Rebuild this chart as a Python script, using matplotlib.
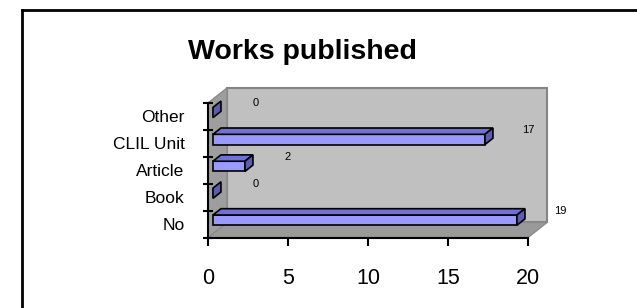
import matplotlib
matplotlib.use("Agg")
import matplotlib.pyplot as plt
from matplotlib.patches import Polygon
from matplotlib.lines import Line2D

# data
categories = ["No", "Book", "Article", "CLIL Unit", "Other"]
values = [19, 0, 2, 17, 0]
xticks = [0, 5, 10, 15, 20]
title = "Works published"

plt.rcParams['font.family'] = ['Liberation Sans', 'DejaVu Sans']

W, H = 637, 308
fig = plt.figure(figsize=(W / 100, H / 100), dpi=100)
ax = fig.add_axes([208 / W, 70.5 / H, 320 / W, 134.5 / H])
xmax = xticks[-1]
lo, hi = -0.5, len(categories) - 0.5
ax.set_xlim(0, xmax)
ax.set_ylim(lo, hi)

# fake 3d depth (in data units)
dx, dy = 1.19, 0.56


def poly(pts, fc, ec, lw, z):
    ax.add_patch(Polygon(pts, closed=True, fc=fc, ec=ec, lw=lw,
                         zorder=z, clip_on=False, joinstyle='miter'))


# walls and floor
poly([(dx, lo + dy), (xmax + dx, lo + dy), (xmax + dx, hi + dy), (dx, hi + dy)],
     '#c0c0c0', '#858585', 1.5, 1)
poly([(0, lo), (xmax, lo), (xmax + dx, lo + dy), (dx, lo + dy)],
     '#9a9a9a', '#8a8a8a', 1.0, 1.1)
poly([(0, lo), (0, hi), (dx, hi + dy), (dx, lo + dy)],
     '#9e9e9e', '#8a8a8a', 1.0, 1.1)

# bars
h = 0.38
f0, f1 = 0.26, 0.68
ddx, ddy = (f1 - f0) * dx, (f1 - f0) * dy
for i, v in enumerate(values):
    x0 = f0 * dx
    y0 = i - h / 2 + f0 * dy
    y1 = y0 + h
    z = 5 + (len(values) - i)
    if v > 0:
        poly([(x0, y0), (x0 + v, y0), (x0 + v, y1), (x0, y1)], '#9999ff', 'black', 1.2, z)
        poly([(x0, y1), (x0 + v, y1), (x0 + v + ddx, y1 + ddy), (x0 + ddx, y1 + ddy)],
             '#7070d6', 'black', 1.2, z)
    poly([(x0 + v, y0), (x0 + v + ddx, y0 + ddy), (x0 + v + ddx, y1 + ddy), (x0 + v, y1)],
         '#5c5cb0', 'black', 1.2, z)
    ax.text(v + 3.0, i + 0.5, str(v), fontsize=8, ha='center', va='center', zorder=20)

# axes
for s in ['top', 'right']:
    ax.spines[s].set_visible(False)
ax.spines['left'].set_linewidth(1.5)
ax.spines['bottom'].set_linewidth(1.5)
ax.spines['left'].set_zorder(4)
ax.spines['bottom'].set_zorder(4)
ax.set_xticks(xticks)
ax.tick_params(axis='x', length=6, width=1.5, labelsize=15.5, pad=16)
ax.set_yticks([k - 0.5 for k in range(len(categories) + 1)])
ax.set_yticklabels([])
ax.set_yticks(range(len(categories)), minor=True)
ax.set_yticklabels(categories, minor=True)
ax.tick_params(axis='y', which='major', length=7, width=1.5, direction='inout')
ax.tick_params(axis='y', which='minor', length=0, labelsize=12.5, pad=17)
ax.patch.set_visible(False)

fig.text(188 / W, 1 - 59.3 / H, title, fontsize=20.5, fontweight='bold',
         ha='left', va='baseline')

# chart frame (only top and left visible in the crop)
fig.add_artist(Line2D([22 / W, 1.0], [1 - 10 / H] * 2, transform=fig.transFigure,
                      color='black', lw=2))
fig.add_artist(Line2D([22 / W] * 2, [0.0, 1 - 10 / H], transform=fig.transFigure,
                      color='black', lw=2))

fig.savefig("out.png", dpi=100)
